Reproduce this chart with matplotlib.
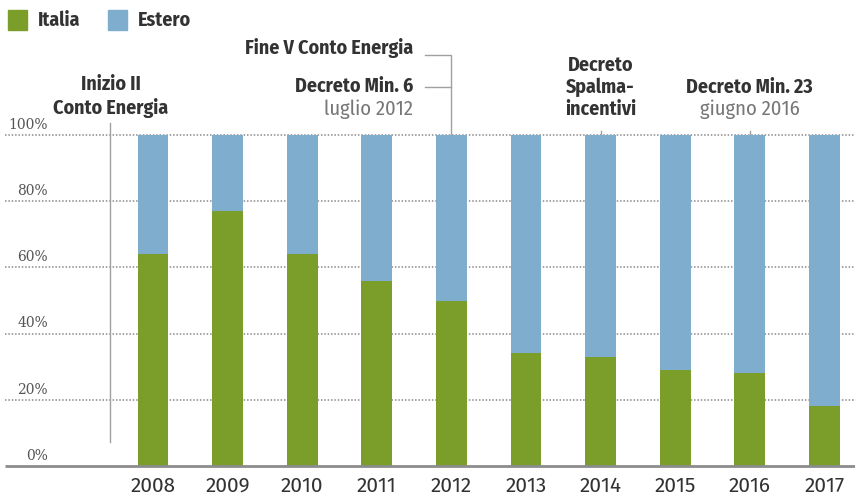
import numpy as np
import matplotlib
matplotlib.use('Agg')
import matplotlib.pyplot as plt
from matplotlib.patches import Rectangle

# data
years = ['2008', '2009', '2010', '2011', '2012', '2013', '2014', '2015', '2016', '2017']
italia = [64, 77, 64, 56, 50, 34, 33, 29, 28, 18]
estero = [100 - v for v in italia]
yticks = [0, 20, 40, 60, 80, 100]

GREEN = '#7b9e2b'
BLUE = '#7fadcd'
DARK = '#333333'
GRAY = '#777777'
SANS = ['Fira Sans Condensed', 'DejaVu Sans']
SERIF = 'DejaVu Serif'
FS = 14.3

fig = plt.figure(figsize=(8.55, 4.95), dpi=100)
ax = fig.add_axes([0, 0, 1, 1])
ax.set_axis_off()

# pixel mapping: bar i centre at 153 + 74.6*i, 0% at y=466, 100% at y=135
ax.set_xlim(-153 / 74.6, (855 - 153) / 74.6)
ppu = (466 - 135) / 100.0
ax.set_ylim(-(495 - 466) / ppu, 100 + 135 / ppu)

def px(x):
    return (x - 153) / 74.6

def py(y):
    return (466 - y) / ppu

x = np.arange(len(years))
x0, x1 = px(5), px(855)

# gridlines
for v in yticks:
    if v > 0:
        ax.plot([x0, x1], [v, v], color='#8a8a8a', lw=1.1, ls=(0, (1, 1.2)), zorder=1)
    ax.text(px(48), v + 3.1, '%d%%' % v, ha='right', va='center', fontsize=10,
            family=SERIF, color='#555555')
ax.plot([x0, x1], [0, 0], color='#8c8c8c', lw=2, zorder=3, solid_capstyle='butt')

ax.bar(x, italia, width=0.415, color=GREEN, zorder=2)
ax.bar(x, estero, bottom=italia, width=0.415, color=BLUE, zorder=2)

for i, yr in enumerate(years):
    ax.text(i, py(486), yr, ha='center', va='center', fontsize=15,
            family=['Fira Sans', 'DejaVu Sans'], color=DARK)

# annotations
lc = '#a0a0a0'
ax.plot([px(110), px(110)], [py(123), py(442)], color=lc, lw=1, zorder=1)
ax.text(px(111), py(84), 'Inizio II', ha='center', va='center', fontsize=FS,
        family=SANS, weight='bold', color=DARK)
ax.text(px(111), py(108), 'Conto Energia', ha='center', va='center', fontsize=FS,
        family=SANS, weight='bold', color=DARK)

ax.plot([px(425), 4, 4], [py(55), py(55), 100], color=lc, lw=1, zorder=1)
ax.plot([px(425), 4], [py(87), py(87)], color=lc, lw=1, zorder=1)
ax.text(px(413), py(48), 'Fine V Conto Energia', ha='right', va='center', fontsize=FS,
        family=SANS, weight='bold', color=DARK)
ax.text(px(413), py(86), 'Decreto Min. 6', ha='right', va='center', fontsize=FS,
        family=SANS, weight='bold', color=DARK)
ax.text(px(413), py(109), 'luglio 2012', ha='right', va='center', fontsize=14.8,
        family=SANS, color=GRAY)

ax.plot([6, 6], [100, py(131)], color=lc, lw=1, zorder=1)
for j, s in enumerate(['Decreto', 'Spalma-', 'incentivi']):
    ax.text(6, py(65 + 22 * j), s, ha='center', va='center', fontsize=FS,
            family=SANS, weight='bold', color=DARK)

ax.plot([8, 8], [100, py(131)], color=lc, lw=1, zorder=1)
ax.text(8, py(87), 'Decreto Min. 23', ha='center', va='center', fontsize=FS,
        family=SANS, weight='bold', color=DARK)
ax.text(8, py(109), 'giugno 2016', ha='center', va='center', fontsize=14.8,
        family=SANS, color=GRAY)

# legend
for xs, col, lab in [(8, GREEN, 'Italia'), (108, BLUE, 'Estero')]:
    fig.add_artist(Rectangle((xs / 855, 1 - 30 / 495), 19 / 855, 20 / 495,
                             transform=fig.transFigure, color=col))
    fig.text((xs + 30) / 855, 1 - 20 / 495, lab, ha='left', va='center', fontsize=FS,
             family=SANS, weight='bold', color=DARK)

fig.savefig('out.png', dpi=100)
